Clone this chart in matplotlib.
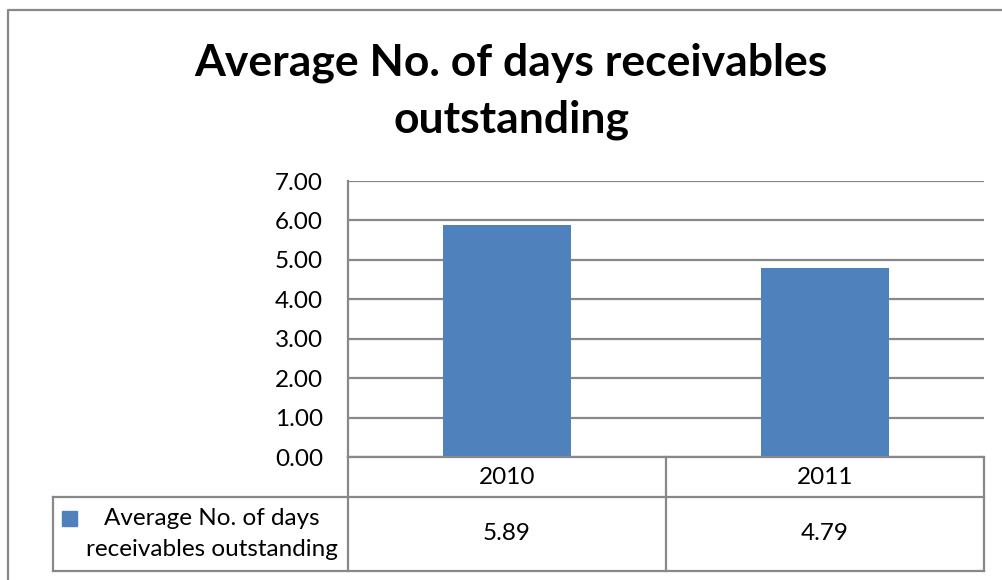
import matplotlib
matplotlib.use("Agg")
import matplotlib.pyplot as plt
from matplotlib.lines import Line2D
from matplotlib.patches import Rectangle

# data
years = ["2010", "2011"]
values = [5.89, 4.79]
series_name = "Average No. of days\nreceivables outstanding"
title = "Average No. of days receivables\noutstanding"

BAR = "#4F81BD"
GRID = "#888888"
W, H = 1002, 580
FS = 17.5

plt.rcParams["font.family"] = ["Lato", "DejaVu Sans"]

fig = plt.figure(figsize=(W / 100, H / 100), dpi=100)


def fx(px):
    return px / W


def fy(py):
    return 1 - py / H


# outer chart border (left + top visible)
fig.add_artist(Line2D([fx(8), fx(8), fx(1002)], [fy(580), fy(9.5), fy(9.5)],
                      transform=fig.transFigure, color=GRID, lw=1.6))

fig.text(fx(511), fy(91), title, ha="center", va="center", fontsize=32,
         fontweight="bold", linespacing=1.5)

ax = fig.add_axes([fx(348), fy(457), fx(984) - fx(348), fy(181) - fy(457)])
x = list(range(len(years)))
ax.bar(x, values, width=0.4, color=BAR, zorder=3)
ax.set_xlim(-0.5, len(years) - 0.5)
ax.set_ylim(0, 7)
ax.set_yticks([i for i in range(8)])
ax.set_yticklabels([f"{i:.2f}" for i in range(8)], fontsize=FS)
ax.tick_params(axis="y", length=0, pad=18)
ax.set_xticks([])
ax.yaxis.grid(True, color=GRID, lw=1.6, zorder=0)
for s in ["top", "right", "bottom"]:
    ax.spines[s].set_visible(False)
ax.spines["left"].set_color(GRID)
ax.spines["left"].set_linewidth(1.6)

# data table below the axis
tr = fig.transFigure
row1, row2, row3 = 457, 497, 571
left_tab = 53
col_px = [348 + (984 - 348) * (i / len(years)) for i in range(len(years) + 1)]
lines = [
    ([col_px[0], col_px[-1]], [row1, row1]),
    ([left_tab, col_px[-1]], [row2, row2]),
    ([left_tab, col_px[-1]], [row3, row3]),
    ([left_tab, left_tab], [row2, row3]),
]
for c in col_px:
    lines.append(([c, c], [row1, row3]))
for xs, ys in lines:
    fig.add_artist(Line2D([fx(v) for v in xs], [fy(v) for v in ys],
                          transform=tr, color=GRID, lw=1.6))

for i, (yr, v) in enumerate(zip(years, values)):
    cx = (col_px[i] + col_px[i + 1]) / 2
    fig.text(fx(cx), fy((row1 + row2) / 2), yr, ha="center", va="center", fontsize=FS)
    fig.text(fx(cx), fy((row2 + row3) / 2), f"{v:.2f}", ha="center", va="center",
             fontsize=FS)

fig.add_artist(Rectangle((fx(62), fy(526)), fx(15), fy(511) - fy(526),
                         transform=tr, color=BAR))
fig.text(fx(212), fy(534), series_name, ha="center", va="center",
         fontsize=FS, linespacing=1.6)

fig.savefig("out.png", dpi=100, facecolor="white")
